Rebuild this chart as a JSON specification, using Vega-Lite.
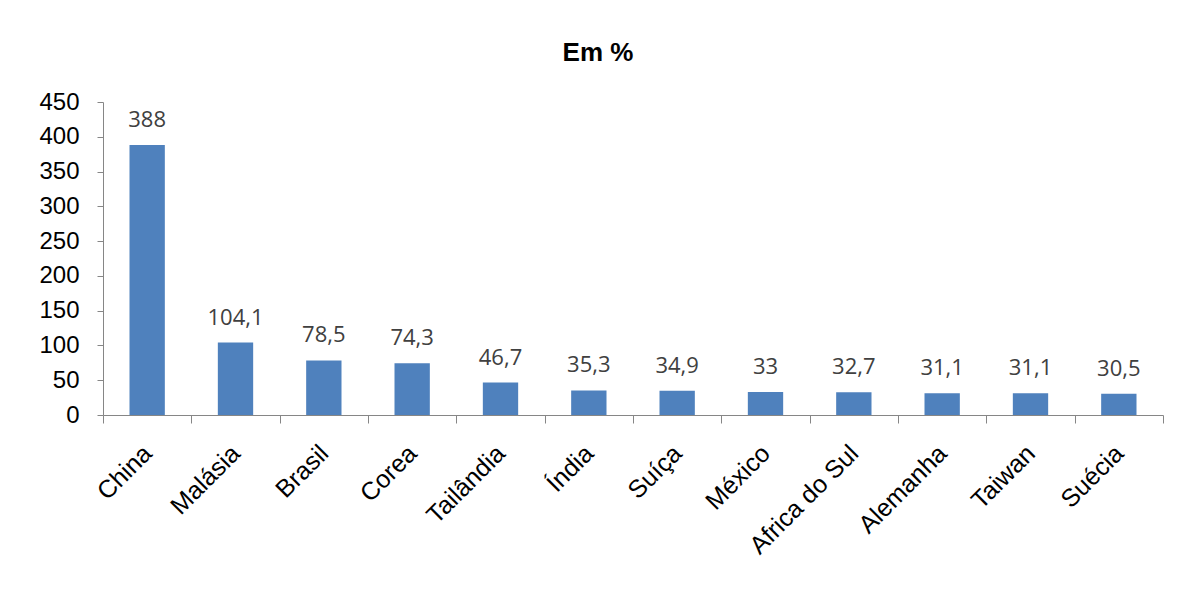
{
  "$schema": "https://vega.github.io/schema/vega-lite/v6.json",
  "autosize": {"type": "none"},
  "width": 1060,
  "height": 313,
  "padding": {"left": 103, "top": 102, "right": 17, "bottom": 174},
  "background": "white",
  "title": {
    "text": "Em %",
    "font": "Liberation Sans",
    "fontSize": 26,
    "fontWeight": "bold",
    "color": "black",
    "anchor": "middle",
    "frame": "group",
    "baseline": "alphabetic",
    "offset": 3,
    "dx": -35
  },
  "config": {
    "view": {"stroke": null},
    "axis": {"domainColor": "#868686", "tickColor": "#868686", "grid": false, "title": null}
  },
  "data": {
    "values": [
      {"pais": "China", "valor": 388, "rotulo": "388"},
      {"pais": "Malásia", "valor": 104.1, "rotulo": "104,1"},
      {"pais": "Brasil", "valor": 78.5, "rotulo": "78,5"},
      {"pais": "Corea", "valor": 74.3, "rotulo": "74,3"},
      {"pais": "Tailândia", "valor": 46.7, "rotulo": "46,7"},
      {"pais": "Índia", "valor": 35.3, "rotulo": "35,3"},
      {"pais": "Suíça", "valor": 34.9, "rotulo": "34,9"},
      {"pais": "México", "valor": 33, "rotulo": "33"},
      {"pais": "Africa do Sul", "valor": 32.7, "rotulo": "32,7"},
      {"pais": "Alemanha", "valor": 31.1, "rotulo": "31,1"},
      {"pais": "Taiwan", "valor": 31.1, "rotulo": "31,1"},
      {"pais": "Suécia", "valor": 30.5, "rotulo": "30,5"}
    ]
  },
  "encoding": {
    "x": {
      "field": "pais",
      "type": "nominal",
      "sort": null,
      "scale": {"paddingInner": 0, "paddingOuter": 0},
      "axis": {
        "labelAngle": -45,
        "labelAlign": "right",
        "labelBaseline": "middle",
        "labelFont": "Liberation Sans",
        "labelFontSize": 25,
        "labelColor": "black",
        "labelPadding": 26,
        "tickSize": 8,
        "tickBand": "extent",
        "labelOverlap": false
      }
    },
    "y": {
      "field": "valor",
      "type": "quantitative",
      "scale": {"domain": [0, 450], "nice": false},
      "axis": {
        "values": [0, 50, 100, 150, 200, 250, 300, 350, 400, 450],
        "labelFont": "Liberation Sans",
        "labelFontSize": 24,
        "labelColor": "black",
        "labelPadding": 18,
        "tickSize": 6
      }
    }
  },
  "layer": [
    {"mark": {"type": "bar", "color": "#4F81BD", "width": {"band": 0.4}}},
    {
      "mark": {"type": "text", "font": "Open Sans", "fontSize": 22, "color": "#404040", "baseline": "alphabetic", "dy": -18},
      "encoding": {"text": {"field": "rotulo"}}
    }
  ]
}
